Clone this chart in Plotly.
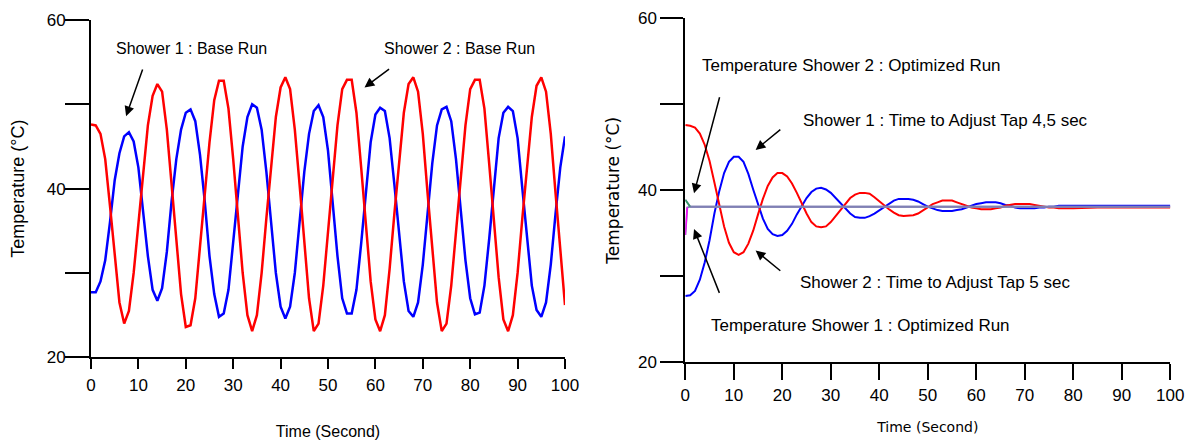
import plotly.graph_objects as go

# ---------------- Left chart: base run (1 s samples) ----------------
time_base = list(range(0, 101))
shower1_base = [27.7, 27.7, 29.0, 31.5, 36.0, 41.0, 44.2, 46.2, 46.7, 45.6,
                42.5, 37.5, 32.0, 28.0, 26.7, 28.2, 32.5, 38.5, 43.5, 47.0,
                49.0, 49.4, 48.0, 44.0, 38.5, 32.0, 27.5, 24.8, 25.2, 28.0,
                33.5, 39.5, 45.0, 48.5, 50.0, 49.6, 47.0, 42.0, 36.0, 30.0,
                26.0, 24.6, 26.0, 30.0, 36.0, 42.0, 46.5, 49.2, 49.9, 48.5,
                44.5, 38.5, 32.0, 27.0, 25.2, 25.2, 28.0, 33.5, 40.0, 45.5,
                48.8, 49.6, 49.2, 46.0, 40.5, 34.5, 29.0, 25.5, 24.8, 26.5,
                31.0, 37.0, 43.0, 47.5, 49.4, 49.7, 48.0, 43.5, 37.5, 31.5,
                27.0, 25.1, 25.3, 28.5, 34.0, 40.5, 46.0, 49.0, 49.7, 49.2,
                46.0, 40.0, 34.0, 28.5, 25.6, 24.8, 26.5, 31.0, 37.0, 42.5,
                46.2]
shower2_base = [47.6, 47.5, 46.5, 43.5, 38.0, 32.0, 26.5, 24.0, 25.5, 30.0,
                36.0, 42.0, 47.5, 51.0, 52.4, 51.5, 47.0, 40.5, 33.5, 27.5,
                23.6, 23.8, 27.0, 33.0, 39.5, 45.5, 50.5, 52.8, 52.8, 49.5,
                43.5, 36.5, 30.0, 25.0, 23.1, 25.0, 30.0, 36.5, 43.0, 48.5,
                52.0, 53.2, 51.8, 47.0, 40.5, 33.5, 27.0, 23.1, 24.0, 28.5,
                35.0, 41.5, 47.5, 51.8, 52.9, 52.9, 49.0, 42.5, 35.5, 29.0,
                24.5, 23.1, 25.0, 30.5, 37.0, 43.5, 49.0, 52.4, 53.2, 51.5,
                46.5, 39.5, 32.5, 26.5, 23.1, 24.0, 28.5, 35.0, 41.5, 47.5,
                51.8, 52.9, 52.9, 49.5, 43.0, 36.0, 29.5, 24.5, 23.1, 25.0,
                30.0, 36.5, 43.0, 48.5, 52.2, 53.2, 51.5, 46.5, 39.5, 32.5,
                26.2]

# ---------------- Right chart: tap adjustment / optimized ----------------
time_adj = list(range(0, 81)) + [85, 90, 95, 100]
shower1_tap45 = [27.7, 27.8, 28.3, 29.6, 31.6, 34.2, 37.3, 39.9, 42.0, 43.3,
                 43.9, 43.9, 43.3, 41.9, 40.1, 38.3, 36.7, 35.5, 34.9, 34.7,
                 34.8, 35.3, 36.1, 37.2, 38.2, 39.1, 39.8, 40.2, 40.3, 40.1,
                 39.7, 39.1, 38.5, 37.9, 37.3, 36.9, 36.8, 36.8, 37.0, 37.3,
                 37.7, 38.1, 38.5, 38.8, 39.0, 39.0, 39.0, 38.9, 38.7, 38.4,
                 38.1, 37.9, 37.7, 37.6, 37.6, 37.6, 37.7, 37.8, 38.0, 38.2,
                 38.4, 38.5, 38.6, 38.6, 38.6, 38.5, 38.3, 38.2, 38.0, 37.9,
                 37.9, 37.9, 37.9, 38.0, 38.0, 38.1, 38.1, 38.2, 38.2, 38.2,
                 38.2, 38.2, 38.2, 38.2, 38.2]
shower2_tap5 = [47.6, 47.5, 47.3, 46.6, 45.3, 43.4, 40.9, 38.2, 35.8, 33.9,
                32.8, 32.5, 32.8, 33.8, 35.3, 37.2, 39.0, 40.5, 41.5, 42.0,
                42.0, 41.6, 40.8, 39.7, 38.4, 37.3, 36.3, 35.8, 35.7, 35.8,
                36.3, 37.0, 37.8, 38.5, 39.1, 39.5, 39.7, 39.7, 39.6, 39.2,
                38.7, 38.2, 37.8, 37.4, 37.1, 37.0, 37.05, 37.1, 37.3, 37.7,
                38.1, 38.4, 38.6, 38.8, 38.8, 38.8, 38.6, 38.4, 38.2, 38.0,
                37.9, 37.8, 37.8, 37.8, 37.9, 38.0, 38.2, 38.3, 38.4, 38.4,
                38.4, 38.4, 38.3, 38.2, 38.1, 38.0, 38.0, 37.9, 37.9, 37.9,
                37.9, 38.0, 38.0, 38.0, 38.0]

time_opt = [0, 0.4, 1.0, 100]
shower1_opt = [34.8, 38.0, 38.1, 38.1]
shower2_opt = [38.9, 38.6, 38.1, 38.1]

y_ticks = [20, 30, 40, 50, 60]
y_ticktext = ["20", "", "40", "", "60"]
x_ticks = [0, 10, 20, 30, 40, 50, 60, 70, 80, 90, 100]

FONT = "Liberation Sans, Arial, sans-serif"
W, H, OFF = 1194, 440, 8  # page body margin offsets the figure by 8 px

def dx(px):
    return (px - OFF) / W

def dy(py):
    return (H - (py - OFF)) / H

fig = go.Figure()

# left
fig.add_trace(go.Scatter(x=time_base, y=shower1_base, mode="lines",
                         line=dict(color="#0000ff", width=2.5), xaxis="x", yaxis="y"))
fig.add_trace(go.Scatter(x=time_base, y=shower2_base, mode="lines",
                         line=dict(color="#ff0000", width=2.5), xaxis="x", yaxis="y"))

# right
fig.add_trace(go.Scatter(x=time_adj, y=shower1_tap45, mode="lines",
                         line=dict(color="#0000ff", width=2), xaxis="x2", yaxis="y2"))
fig.add_trace(go.Scatter(x=time_adj, y=shower2_tap5, mode="lines",
                         line=dict(color="#ff0000", width=2), xaxis="x2", yaxis="y2"))
fig.add_trace(go.Scatter(x=time_opt, y=shower2_opt, mode="lines",
                         line=dict(color="#8080b4", width=2), xaxis="x2", yaxis="y2"))
fig.add_trace(go.Scatter(x=time_opt, y=shower1_opt, mode="lines",
                         line=dict(color="#8080b4", width=2), xaxis="x2", yaxis="y2"))
fig.add_trace(go.Scatter(x=time_opt[:3], y=shower2_opt[:3], mode="lines",
                         line=dict(color="#2e9e5e", width=1.5), xaxis="x2", yaxis="y2"))
fig.add_trace(go.Scatter(x=time_opt[:2], y=shower1_opt[:2], mode="lines",
                         line=dict(color="#ff00ff", width=1.5), xaxis="x2", yaxis="y2"))

axis_common = dict(showgrid=False, zeroline=False, showline=True, linecolor="black",
                   linewidth=2, ticks="outside", tickcolor="black", tickwidth=1.5,
                   automargin=False,
                   tickfont=dict(family=FONT, size=17, color="black"))

fig.update_layout(
    width=W, height=H,
    margin=dict(l=0, r=0, t=0, b=0),
    paper_bgcolor="white", plot_bgcolor="white",
    showlegend=False,
    xaxis=dict(domain=[dx(91), dx(565)], range=[0, 100], tickvals=x_ticks,
               ticklen=10, anchor="y", ticklabelstandoff=1,
               title=dict(text="Time (Second)", font=dict(family=FONT, size=16, color="black"),
                          standoff=32),
               **axis_common),
    yaxis=dict(domain=[dy(357.3), dy(20)], range=[20, 60], tickvals=y_ticks,
               ticktext=y_ticktext, ticklen=24, anchor="x", ticklabelstandoff=-4,
               title=dict(text="Temperature (°C)", font=dict(family=FONT, size=18, color="black"),
                          standoff=18),
               **axis_common),
    xaxis2=dict(domain=[dx(685.3), dx(1170.3)], range=[0, 100], tickvals=x_ticks,
                ticklen=16, anchor="y2",
                title=dict(text="Time (Second)", font=dict(family="DejaVu Sans", size=14, color="black"),
                           standoff=18),
                **axis_common),
    yaxis2=dict(domain=[dy(362.3), dy(18.3)], range=[20, 60], tickvals=y_ticks,
                ticktext=y_ticktext, ticklen=23, anchor="x2",
                title=dict(text="Temperature (°C)", font=dict(family="DejaVu Sans", size=17, color="black"),
                           standoff=14),
                **axis_common),
)

def label(text, x, y, xr, yr, size):
    fig.add_annotation(text=text, x=x, y=y, xref=xr, yref=yr, showarrow=False,
                       font=dict(family=FONT, size=size, color="black"),
                       xanchor="center", yanchor="middle")

def arrow(x, y, ax, ay, xr, yr):
    fig.add_annotation(text="", x=x, y=y, ax=ax, ay=ay, xref=xr, yref=yr,
                       axref=xr, ayref=yr, showarrow=True, arrowhead=2,
                       arrowsize=1.3, arrowwidth=1.5, arrowcolor="black")

label("Shower 1 : Base Run", 21.3, 56.6, "x", "y", 16)
label("Shower 2 : Base Run", 77.8, 56.6, "x", "y", 16)
arrow(7.4, 48.6, 11.0, 54.3, "x", "y")
arrow(57.7, 52.0, 63.2, 54.3, "x", "y")

label("Temperature Shower 2 : Optimized Run", 34.3, 54.5, "x2", "y2", 17)
label("Shower 1 : Time to Adjust Tap 4,5 sec", 53.6, 48.1, "x2", "y2", 17)
label("Shower 2 : Time to Adjust Tap 5 sec", 51.5, 29.3, "x2", "y2", 17)
label("Temperature Shower 1 : Optimized Run", 36.1, 24.3, "x2", "y2", 17)
arrow(1.8, 39.65, 7.15, 51.0, "x2", "y2")
arrow(14.5, 44.7, 19.9, 47.2, "x2", "y2")
arrow(14.5, 33.0, 19.9, 30.5, "x2", "y2")
arrow(1.8, 35.5, 7.15, 27.9, "x2", "y2")

fig.write_html("out.html")
